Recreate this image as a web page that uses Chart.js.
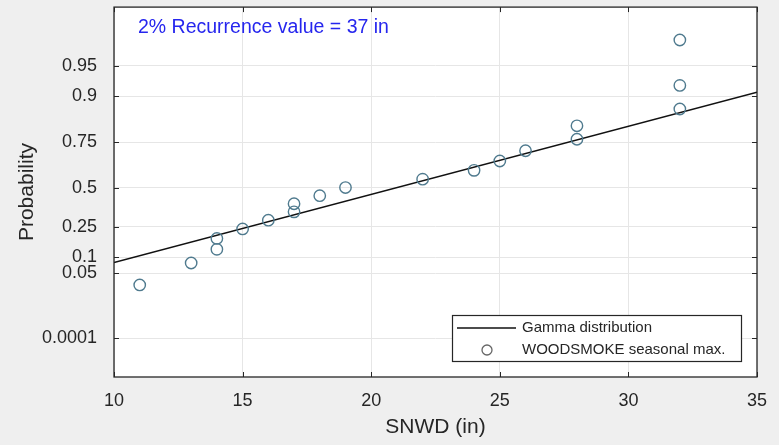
<!DOCTYPE html>
<html>
<head>
<meta charset="utf-8">
<script src="https://cdn.jsdelivr.net/npm/chart.js@4/dist/chart.umd.min.js"></script>
<style>
  html, body { margin: 0; padding: 0; background: #efefef; }
  #wrap { width: 779px; height: 445px; }
</style>
</head>
<body>
<div id="wrap"><canvas id="c" width="779" height="445"></canvas></div>
<script>
// ---- data ----
const snwd = [11, 13, 14, 14, 15, 16, 17, 17, 18, 19, 22, 24, 25, 26, 28, 28, 32, 32, 32];
const probability = [0.0263, 0.0789, 0.1316, 0.1842, 0.2368, 0.2895, 0.3421, 0.3947, 0.4474, 0.5000,
                     0.5526, 0.6053, 0.6579, 0.7105, 0.7632, 0.8158, 0.8684, 0.9211, 0.9737];
const fitX = [10, 35];
const fitP = [0.0803, 0.908];
const yTickProbs = [0.0001, 0.05, 0.1, 0.25, 0.5, 0.75, 0.9, 0.95];
const yTickLabels = ['0.0001', '0.05', '0.1', '0.25', '0.5', '0.75', '0.9', '0.95'];
const xTicks = [10, 15, 20, 25, 30, 35];
const seriesNames = ['Gamma distribution', 'WOODSMOKE seasonal max.'];
const noteText = '2% Recurrence value = 37 in';

// probability axis: gamma (shape 10) quantile scale
const SHAPE = 10;
function gammaCdf(x) {
  let term = Math.exp(-x), sum = term;
  for (let j = 1; j < SHAPE; j++) { term *= x / j; sum += term; }
  return 1 - sum;
}
function q(p) {
  let lo = 0, hi = 80;
  for (let i = 0; i < 80; i++) {
    const m = (lo + hi) / 2;
    if (gammaCdf(m) < p) lo = m; else hi = m;
  }
  return (lo + hi) / 2;
}

const FONT = "'Liberation Sans', Arial, sans-serif";

const frame = {
  id: 'frame',
  beforeDraw(chart) {
    const { ctx, chartArea: a } = chart;
    ctx.save();
    ctx.fillStyle = '#ffffff';
    ctx.fillRect(a.left, a.top, a.right - a.left, a.bottom - a.top);
    ctx.restore();
  },
  afterDraw(chart) {
    const { ctx, chartArea: a, scales } = chart;
    ctx.save();
    // inner ticks
    ctx.strokeStyle = '#262626';
    ctx.lineWidth = 1;
    const L = 5;
    scales.y.ticks.forEach(t => {
      const y = Math.round(scales.y.getPixelForValue(t.value)) + 0.5;
      ctx.beginPath();
      ctx.moveTo(a.left, y); ctx.lineTo(a.left + L, y);
      ctx.moveTo(a.right, y); ctx.lineTo(a.right - L, y);
      ctx.stroke();
    });
    scales.x.ticks.forEach(t => {
      const x = Math.round(scales.x.getPixelForValue(t.value)) + 0.5;
      ctx.beginPath();
      ctx.moveTo(x, a.bottom); ctx.lineTo(x, a.bottom - L);
      ctx.moveTo(x, a.top); ctx.lineTo(x, a.top + L);
      ctx.stroke();
    });
    // box
    ctx.lineWidth = 1.3;
    ctx.strokeStyle = '#262626';
    ctx.strokeRect(a.left, a.top, a.right - a.left, a.bottom - a.top);

    // annotation
    ctx.fillStyle = '#2626ee';
    ctx.font = '19.5px ' + FONT;
    ctx.textBaseline = 'middle';
    ctx.textAlign = 'left';
    ctx.fillText(noteText, a.left + 24, a.top + 21);

    // legend
    const bx = 452, by = 315, bw = 289, bh = 46;
    ctx.fillStyle = '#ffffff';
    ctx.fillRect(bx, by, bw, bh);
    ctx.lineWidth = 1.2;
    ctx.strokeStyle = '#262626';
    ctx.strokeRect(bx + 0.5, by + 0.5, bw, bh);
    ctx.strokeStyle = '#111111';
    ctx.lineWidth = 1.3;
    ctx.beginPath();
    ctx.moveTo(bx + 5, by + 13); ctx.lineTo(bx + 64, by + 13);
    ctx.stroke();
    ctx.strokeStyle = '#666666';
    ctx.beginPath();
    ctx.arc(bx + 35, by + 35, 5, 0, Math.PI * 2);
    ctx.stroke();
    ctx.fillStyle = '#262626';
    ctx.font = '15px ' + FONT;
    ctx.fillText(seriesNames[0], bx + 70, by + 13);
    ctx.fillText(seriesNames[1], bx + 70, by + 35);
    ctx.restore();
  }
};

new Chart(document.getElementById('c'), {
  type: 'scatter',
  data: {
    datasets: [
      {
        label: seriesNames[0],
        type: 'line',
        data: fitX.map((x, i) => ({ x: x, y: q(fitP[i]) })),
        borderColor: '#111111',
        borderWidth: 1.4,
        pointRadius: 0,
        fill: false,
        order: 2
      },
      {
        label: seriesNames[1],
        data: snwd.map((x, i) => ({ x: x, y: q(probability[i]) })),
        pointStyle: 'circle',
        pointRadius: 5.7,
        pointHoverRadius: 5.7,
        borderWidth: 1.4,
        borderColor: '#4f7a8e',
        backgroundColor: 'rgba(0,0,0,0)',
        order: 1
      }
    ]
  },
  options: {
    responsive: false,
    animation: false,
    events: [],
    layout: { padding: { left: 0, right: 22, top: 4, bottom: 0 } },
    plugins: { legend: { display: false }, tooltip: { enabled: false } },
    scales: {
      x: {
        type: 'linear',
        min: 10, max: 35,
        afterBuildTicks(s) { s.ticks = xTicks.map(v => ({ value: v })); },
        afterFit(s) { s.height = 68; s.paddingLeft = 0; s.paddingRight = 0; },
        grid: { color: '#e6e6e6', lineWidth: 1, drawTicks: false },
        border: { display: false },
        ticks: { color: '#262626', font: { family: FONT, size: 18 }, padding: 13, maxRotation: 0 },
        title: { display: true, text: 'SNWD (in)', color: '#262626', font: { family: FONT, size: 21 }, padding: { top: 0, bottom: 5 } }
      },
      y: {
        type: 'linear',
        min: 0.27, max: 18.62,
        afterBuildTicks(s) { s.ticks = yTickProbs.map(p => ({ value: q(p) })); },
        afterFit(s) { s.width = 114; s.paddingTop = 0; s.paddingBottom = 0; },
        grid: { color: '#e6e6e6', lineWidth: 1, drawTicks: false },
        border: { display: false },
        ticks: {
          color: '#262626', font: { family: FONT, size: 18 }, padding: 17,
          callback: (v, i) => yTickLabels[i]
        },
        title: { display: true, text: 'Probability', color: '#262626', font: { family: FONT, size: 21 }, padding: { top: 15, bottom: 0 } }
      }
    }
  },
  plugins: [frame]
});
</script>
</body>
</html>
